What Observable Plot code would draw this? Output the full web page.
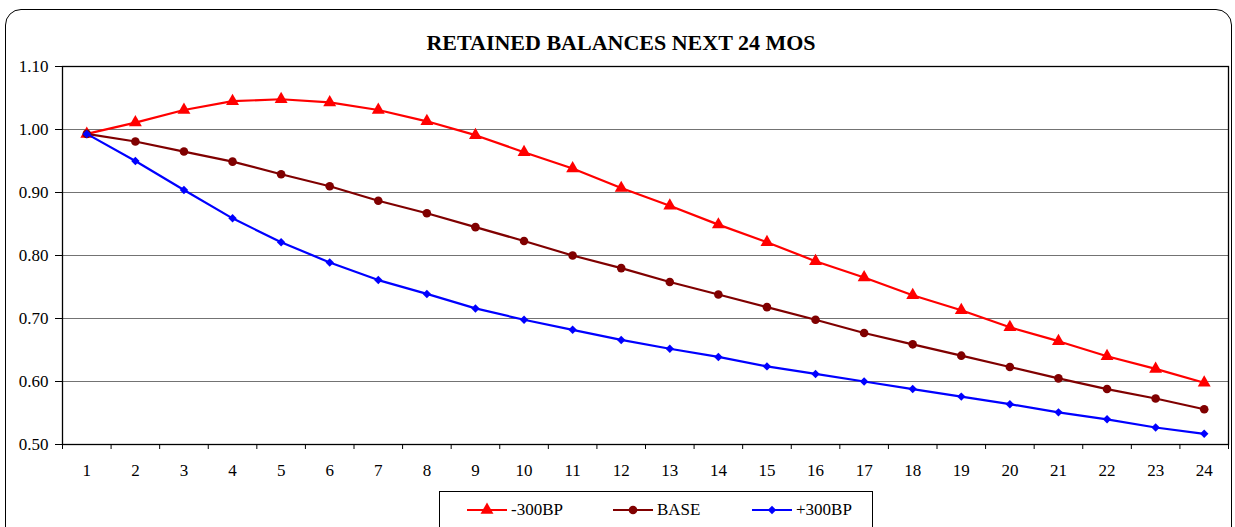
<!DOCTYPE html>
<html>
<head>
<meta charset="utf-8">
<script src="https://cdn.jsdelivr.net/npm/d3@7"></script>
<script src="https://cdn.jsdelivr.net/npm/@observablehq/plot@0.6"></script>
<style>
  html, body { margin: 0; padding: 0; background: #fff; }
  #wrap { position: relative; width: 1235px; height: 527px; overflow: hidden; font-family: 'Liberation Serif', serif; }
  #border { position: absolute; left: 5px; top: 9px; width: 1227px; height: 560px; border: 1.5px solid #000; border-radius: 16px; box-sizing: border-box; }
  #title { position: absolute; left: 0; width: 1242px; top: 30px; text-align: center; font-family: 'Liberation Serif', serif; font-weight: bold; font-size: 22px; line-height: 26px; color: #000; }
  #chart { position: absolute; left: 0; top: 0; }
  #chart svg text { font-family: 'Liberation Serif', serif; }
  #legend { position: absolute; left: 439px; top: 491px; width: 434px; height: 60px; border: 1px solid #000; box-sizing: border-box; background: #fff; }
  .item { position: absolute; top: 8px; height: 20px; display: flex; align-items: center; font-family: 'Liberation Serif', serif; font-size: 17px; color: #000; }
  .item svg { display: block; margin-right: 4px; }
</style>
</head>
<body>
<div id="wrap">
  <div id="border"></div>
  <div id="chart"></div>
  <div id="title">RETAINED BALANCES NEXT 24 MOS</div>
  <div id="legend"></div>
</div>
<script>
const months = [1,2,3,4,5,6,7,8,9,10,11,12,13,14,15,16,17,18,19,20,21,22,23,24];
const minus300 = [0.993,1.011,1.031,1.045,1.048,1.043,1.031,1.013,0.991,0.964,0.938,0.907,0.879,0.849,0.821,0.791,0.765,0.737,0.713,0.686,0.664,0.640,0.620,0.598];
const base     = [0.993,0.981,0.965,0.949,0.929,0.910,0.887,0.867,0.845,0.823,0.800,0.780,0.758,0.738,0.718,0.698,0.677,0.659,0.641,0.623,0.605,0.588,0.573,0.556];
const plus300  = [0.993,0.950,0.904,0.859,0.821,0.789,0.761,0.739,0.716,0.698,0.682,0.666,0.652,0.639,0.624,0.612,0.600,0.588,0.576,0.564,0.551,0.540,0.527,0.517];
const seriesNames = ["-300BP", "BASE", "+300BP"];
const seriesColors = ["#FF0000", "#800000", "#0000FF"];
const seriesSymbols = ["triangle", "circle", "diamond2"];
const seriesR = [4.8, 4.3, 3.8];
const yTicks = [0.5, 0.6, 0.7, 0.8, 0.9, 1.0, 1.1];

const seriesValues = [minus300, base, plus300];
const data = seriesNames.map((name, i) => months.map((m, j) => ({month: m, value: seriesValues[i][j], series: name})));
const boundaries = months.map(m => m - 0.5).concat([months[months.length - 1] + 0.5]);

const marks = [
  Plot.gridY(yTicks, {stroke: "#000", strokeOpacity: 0.55}),
  Plot.frame({stroke: "#000", strokeWidth: 1.3}),
  Plot.axisY(yTicks, {tickFormat: d3.format(".2f"), tickSize: 7, tickPadding: 7, fontSize: 17, label: null}),
  Plot.axisX(boundaries, {tickFormat: () => "", tickSize: 5, label: null}),
  Plot.axisX(months, {tickSize: 0, tickPadding: 19, fontSize: 17, label: null})
];
seriesNames.forEach((name, i) => {
  marks.push(Plot.line(data[i], {x: "month", y: "value", stroke: seriesColors[i], strokeWidth: 2.2}));
  marks.push(Plot.dot(data[i], {x: "month", y: "value", symbol: () => seriesSymbols[i], fill: seriesColors[i], r: seriesR[i], stroke: "none"}));
});

const chart = Plot.plot({
  width: 1235,
  height: 527,
  marginTop: 66,
  marginLeft: 62,
  marginRight: 7,
  marginBottom: 83,
  style: {background: "transparent", fontFamily: "'Liberation Serif', serif", fontSize: "17px", color: "#000"},
  x: {type: "linear", domain: [boundaries[0], boundaries[boundaries.length - 1]], axis: null, label: null},
  y: {type: "linear", domain: [yTicks[0], yTicks[yTicks.length - 1]], axis: null, label: null},
  symbol: {domain: seriesSymbols, range: seriesSymbols},
  marks
});
document.getElementById("chart").appendChild(chart);

// Legend
const legend = d3.select("#legend");
const itemLefts = [27, 173, 312];
const symbolMap = {triangle: d3.symbolTriangle, circle: d3.symbolCircle, diamond2: d3.symbolDiamond2};
seriesNames.forEach((name, i) => {
  const item = legend.append("div").attr("class", "item").style("left", itemLefts[i] + "px");
  const svg = item.append("svg").attr("width", 40).attr("height", 20);
  svg.append("line").attr("x1", 0).attr("x2", 40).attr("y1", 10).attr("y2", 10).attr("stroke", seriesColors[i]).attr("stroke-width", 2.2);
  svg.append("path").attr("transform", "translate(20,10)")
    .attr("d", d3.symbol(symbolMap[seriesSymbols[i]], Math.PI * seriesR[i] * seriesR[i])())
    .attr("fill", seriesColors[i]);
  item.append("span").text(name);
});
</script>
</body>
</html>
